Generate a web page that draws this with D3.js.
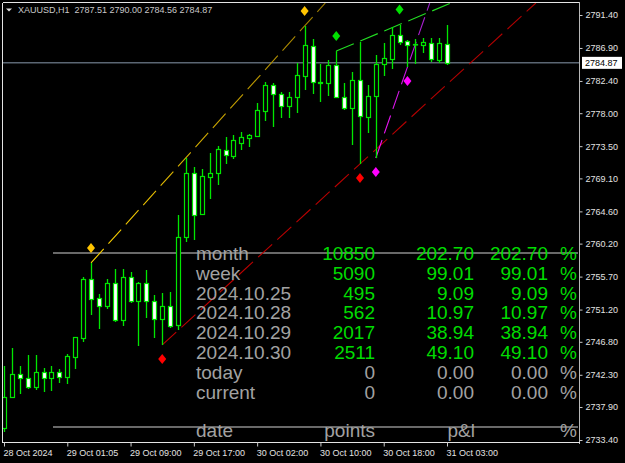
<!DOCTYPE html>
<html>
<head>
<meta charset="utf-8">
<script src="https://cdn.jsdelivr.net/npm/d3@7"></script>
<style>
  html, body { margin: 0; padding: 0; background: #000; }
  svg { display: block; }
  text { font-family: "Liberation Sans", Arial, sans-serif; }
</style>
</head>
<body>
<svg id="chart" width="625" height="463"></svg>
<script>
// ---- data ----
var symbol = "XAUUSD,H1";

var open = [2735.04, 2739.27, 2742.41, 2741.87, 2740.64, 2742.68, 2741.87, 2742.68, 2742.00, 2744.73,
  2747.32, 2755.38, 2752.78, 2751.69, 2754.83, 2749.78, 2755.65, 2752.37, 2754.83, 2752.37,
  2749.92, 2751.69, 2749.10, 2761.11, 2769.84, 2764.25, 2769.29, 2769.84, 2772.98, 2772.16,
  2773.93, 2774.62, 2774.89, 2778.30, 2781.85, 2780.62, 2778.98, 2780.21, 2783.08, 2787.17,
  2782.12, 2782.12, 2784.58, 2780.21, 2778.71, 2782.53, 2777.48, 2780.35, 2784.71, 2785.40,
  2788.67, 2787.85, 2787.44, 2787.31, 2787.58, 2785.26, 2787.51];
var high = [2743.50, 2745.96, 2743.50, 2745.00, 2745.00, 2743.23, 2743.50, 2743.09, 2745.14, 2747.46,
  2755.65, 2757.56, 2753.33, 2755.38, 2756.74, 2756.74, 2756.33, 2754.97, 2756.60, 2753.19,
  2753.46, 2753.60, 2764.11, 2771.89, 2770.66, 2770.39, 2772.57, 2773.52, 2774.75, 2775.03,
  2775.43, 2775.16, 2779.39, 2782.26, 2782.12, 2780.89, 2780.89, 2784.85, 2789.90, 2788.13,
  2784.71, 2785.26, 2786.49, 2782.12, 2783.62, 2787.72, 2781.85, 2785.94, 2787.58, 2789.70,
  2790.10, 2787.99, 2788.13, 2788.26, 2788.26, 2788.26, 2790.00];
var low = [2734.50, 2739.14, 2739.68, 2740.36, 2740.23, 2739.95, 2740.09, 2741.18, 2741.05, 2743.09,
  2746.78, 2750.46, 2748.55, 2751.28, 2749.51, 2748.96, 2752.10, 2746.23, 2750.05, 2747.32,
  2746.37, 2748.69, 2748.42, 2760.42, 2760.70, 2764.11, 2766.29, 2768.20, 2771.07, 2771.75,
  2772.98, 2773.39, 2774.75, 2776.94, 2776.12, 2777.34, 2777.34, 2778.03, 2781.17, 2780.62,
  2779.53, 2780.35, 2780.10, 2778.44, 2773.66, 2771.07, 2775.30, 2771.89, 2783.08, 2784.03,
  2787.31, 2784.30, 2784.71, 2786.22, 2784.99, 2784.85, 2784.56];
var close = [2739.27, 2742.41, 2741.87, 2740.64, 2742.68, 2741.87, 2742.68, 2742.00, 2744.87, 2747.46,
  2755.38, 2752.65, 2751.69, 2754.83, 2749.78, 2755.65, 2752.37, 2754.83, 2752.37, 2749.92,
  2751.69, 2748.96, 2761.11, 2769.84, 2764.11, 2769.43, 2769.84, 2773.11, 2772.30, 2774.34,
  2774.75, 2775.03, 2778.44, 2781.85, 2780.62, 2778.98, 2780.21, 2783.21, 2787.31, 2782.26,
  2782.30, 2784.58, 2780.21, 2778.71, 2782.53, 2777.62, 2780.35, 2784.71, 2785.53, 2788.67,
  2787.72, 2787.31, 2787.50, 2787.72, 2785.40, 2787.58, 2784.87];

var priceTicks = [2791.40, 2786.90, 2782.40, 2778.00, 2773.50, 2769.10, 2764.60,
  2760.20, 2755.70, 2751.20, 2746.80, 2742.30, 2737.90, 2733.40];
var timeTickBars = [0, 8, 16, 24, 32, 40, 48, 56];
var timeTickLabels = ["28 Oct 2024", "29 Oct 01:05", "29 Oct 09:00", "29 Oct 17:00",
  "30 Oct 02:00", "30 Oct 10:00", "30 Oct 18:00", "31 Oct 03:00"];

// trend lines: anchor bars and which end of the bar
var lineFrom = [11, 20, 42, 47];
var lineTo = [38, 45, 50, 51];
var lineKind = ["high", "low", "high", "low"];

// table
var rowLabels = ["month", "week", "2024.10.25", "2024.10.28", "2024.10.29", "2024.10.30", "today", "current"];
var rowPoints = [10850, 5090, 495, 562, 2017, 2511, 0, 0];
var rowPnl = [202.70, 99.01, 9.09, 10.97, 38.94, 49.10, 0, 0];
var rowPct = [202.70, 99.01, 9.09, 10.97, 38.94, 49.10, 0, 0];
var headLabels = ["date", "points", "p&l", "%"];

// ---- setup ----
var svg = d3.select("#chart");
var L = 3, T = 3, R = 579, B = 443;
var nBars = open.length;

var x = d3.scaleLinear().domain([0, nBars - 1]).range([4, 447]);
var y = d3.scaleLinear().domain([2733.4, 2791.4]).range([440, 15]);

var bars = d3.range(nBars).map(function(i) {
  return {i: i, o: open[i], h: high[i], l: low[i], c: close[i]};
});
var last = bars[nBars - 1];

svg.append("rect").attr("width", 625).attr("height", 463).attr("fill", "#000");

var defs = svg.append("defs");
defs.append("clipPath").attr("id", "plot")
  .append("rect").attr("x", L).attr("y", T).attr("width", R - L).attr("height", B - T);

// current price line
svg.append("line")
  .attr("x1", L).attr("x2", R)
  .attr("y1", y(last.c)).attr("y2", y(last.c))
  .attr("stroke", "#5b6673").attr("stroke-width", 1.5);

// table rules
[253, 427].forEach(function(yy) {
  svg.append("line").attr("x1", 53).attr("x2", 578).attr("y1", yy).attr("y2", yy)
    .attr("stroke", "#8c8c8c").attr("stroke-width", 1.3);
});

// trend lines
var lineColors = [["#ffd400", "#9a7a00"], ["#c00000", "#b00000"], ["#22dd22", "#22dd22"], ["#ff10ff", "#9a20c8"]];
var trends = svg.append("g").attr("clip-path", "url(#plot)");
lineFrom.forEach(function(a, k) {
  var b = lineTo[k], key = lineKind[k] === "high" ? "h" : "l";
  var x1 = x(a), y1 = y(bars[a][key]), x2 = x(b), y2 = y(bars[b][key]);
  var slope = (y2 - y1) / (x2 - x1);
  var xe = x1 + (T - y1) / slope, ye = T;
  var gid = "tl" + k;
  var g = defs.append("linearGradient").attr("id", gid)
    .attr("gradientUnits", "userSpaceOnUse")
    .attr("x1", x1).attr("y1", y1).attr("x2", xe).attr("y2", ye);
  g.append("stop").attr("offset", 0).attr("stop-color", lineColors[k][0]);
  g.append("stop").attr("offset", 1).attr("stop-color", lineColors[k][1]);
  trends.append("line")
    .attr("x1", x1).attr("y1", y1).attr("x2", xe).attr("y2", ye)
    .attr("stroke", "url(#" + gid + ")").attr("stroke-width", 1.1)
    .attr("stroke-dasharray", "19,7");
});

// candles
var candleG = svg.append("g").attr("clip-path", "url(#plot)");
var cx = function(d) { return Math.round(x(d.i)) + 0.5; };
candleG.selectAll("line.wick").data(bars).enter().append("line")
  .attr("class", "wick")
  .attr("x1", cx).attr("x2", cx)
  .attr("y1", function(d) { return Math.round(y(d.h)); })
  .attr("y2", function(d) { return Math.round(y(d.l)); })
  .attr("stroke", "#00e600").attr("stroke-width", 1.3);
candleG.selectAll("rect.body").data(bars).enter().append("rect")
  .attr("class", "body")
  .attr("x", function(d) { return cx(d) - 2; })
  .attr("width", 4)
  .attr("y", function(d) { return Math.round(y(Math.max(d.o, d.c))) + 0.5; })
  .attr("height", function(d) { return Math.max(0.5, Math.round(y(Math.min(d.o, d.c))) - Math.round(y(Math.max(d.o, d.c)))); })
  .attr("fill", function(d) { return d.c >= d.o ? "#000" : "#fff"; })
  .attr("stroke", "#00e600").attr("stroke-width", 1.2);

// diamond marks at the trend line anchors
var markColors = ["#ffc400", "#ff0000", "#00e000", "#ff00ff"];
var marks = [];
lineFrom.forEach(function(a, k) {
  [a, lineTo[k]].forEach(function(b) { marks.push({i: b, kind: lineKind[k], color: markColors[k]}); });
});
svg.selectAll("path.mark").data(marks).enter().append("path")
  .attr("class", "mark")
  .attr("d", "M0,-5L4,0L0,5L-4,0Z")
  .attr("transform", function(d) {
    var py = d.kind === "high" ? y(bars[d.i].h) - 15 : y(bars[d.i].l) + 14;
    return "translate(" + x(d.i) + "," + py + ")";
  })
  .attr("fill", function(d) { return d.color; });

// frame
var frame = svg.append("g").attr("stroke", "#e4e4e4").attr("stroke-width", 1);
frame.append("line").attr("x1", L).attr("x2", R).attr("y1", T - 0.5).attr("y2", T - 0.5);
frame.append("line").attr("x1", L - 0.5).attr("x2", L - 0.5).attr("y1", T).attr("y2", B);
frame.append("line").attr("x1", R + 0.5).attr("x2", R + 0.5).attr("y1", T - 1).attr("y2", B + 1).attr("stroke", "#b8b8b8");
frame.append("line").attr("x1", L - 1).attr("x2", R + 1).attr("y1", B - 0.5).attr("y2", B - 0.5);

// price axis
var yAxis = svg.append("g").attr("transform", "translate(" + (R + 0.5) + ",0)")
  .call(d3.axisRight(y).tickValues(priceTicks).tickSize(3).tickPadding(3).tickFormat(d3.format(".2f")));
yAxis.select(".domain").remove();
yAxis.selectAll("line").attr("stroke", "#c8c8c8");
yAxis.selectAll("text").attr("fill", "#e2e2e2").style("font-size", "9px")
  .style("font-family", "'Liberation Sans', Arial, sans-serif");

// current price label
var pl = svg.append("g").attr("transform", "translate(582," + y(last.c) + ")");
pl.append("rect").attr("x", 0).attr("y", -6).attr("width", 40).attr("height", 12).attr("fill", "#fff");
pl.append("text").attr("x", 3).attr("y", 3.5).attr("fill", "#000").style("font-size", "9px")
  .text(d3.format(".2f")(last.c));

// time axis
var xAxis = svg.append("g").attr("transform", "translate(0," + (B - 0.5) + ")")
  .call(d3.axisBottom(x).tickValues(timeTickBars).tickSize(4).tickPadding(3)
    .tickFormat(function(d, i) { return timeTickLabels[i]; }));
xAxis.select(".domain").remove();
xAxis.selectAll("line").attr("stroke", "#c8c8c8");
xAxis.selectAll("text").attr("fill", "#e2e2e2").attr("text-anchor", "start").attr("x", -1)
  .style("font-size", "9px").style("font-family", "'Liberation Sans', Arial, sans-serif");

// header
svg.append("path").attr("d", "M6,8.5L12,8.5L9,11.5Z").attr("fill", "#e0e0e0");
var f2 = d3.format(".2f");
svg.append("text").attr("x", 18).attr("y", 13.3).attr("fill", "#c8c8c8")
  .style("font-size", "9px").style("white-space", "pre")
  .text(symbol + "  " + [last.o, last.h, last.l, last.c].map(f2).join(" "));

// table text
var rowY = d3.scaleLinear().domain([0, rowLabels.length - 1]).range([260, 398.5]);
var gray = "#a2a2a2", green = "#00dc00";
var tbl = svg.append("g").style("font-size", "19px");
var rows = tbl.selectAll("g.row").data(rowLabels).enter().append("g")
  .attr("class", "row")
  .attr("transform", function(d, i) { return "translate(0," + rowY(i) + ")"; });
rows.append("text").attr("x", 196).attr("fill", gray).text(function(d) { return d; });
var colour = function(i) { return rowPoints[i] > 0 ? green : gray; };
rows.append("text").attr("x", 375).attr("text-anchor", "end")
  .attr("fill", function(d, i) { return colour(i); })
  .text(function(d, i) { return rowPoints[i]; });
rows.append("text").attr("x", 474).attr("text-anchor", "end")
  .attr("fill", function(d, i) { return colour(i); })
  .text(function(d, i) { return f2(rowPnl[i]); });
rows.append("text").attr("x", 548).attr("text-anchor", "end")
  .attr("fill", function(d, i) { return colour(i); })
  .text(function(d, i) { return f2(rowPct[i]); });
rows.append("text").attr("x", 560)
  .attr("fill", function(d, i) { return colour(i); })
  .text("%");

var headX = [196, 375, 475, 560], headAnchor = ["start", "end", "end", "start"];
tbl.selectAll("text.head").data(headLabels).enter().append("text")
  .attr("class", "head")
  .attr("x", function(d, i) { return headX[i]; })
  .attr("y", 437)
  .attr("text-anchor", function(d, i) { return headAnchor[i]; })
  .attr("fill", gray)
  .text(function(d) { return d; });
</script>
</body>
</html>
